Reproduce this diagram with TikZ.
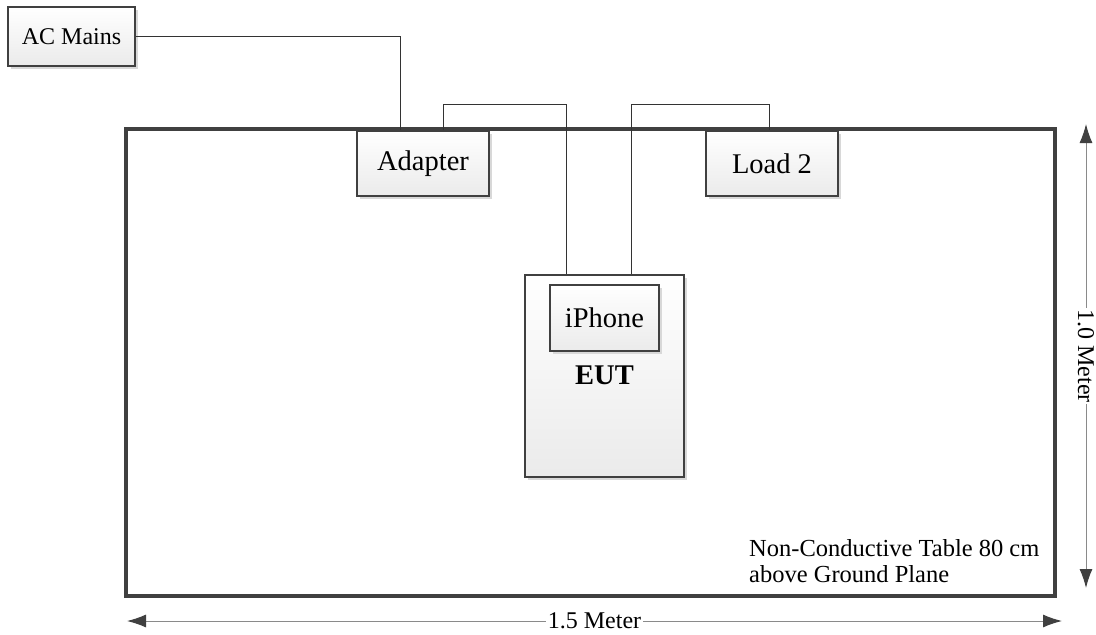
\documentclass[tikz,border=0pt]{standalone}
\usepackage{fontspec}
\setmainfont{Liberation Serif}
\usetikzlibrary{arrows.meta,shadows}
\definecolor{edgegray}{HTML}{404040}
\definecolor{wiregray}{HTML}{333333}
\definecolor{dimgray}{HTML}{8A8A8A}
\definecolor{shadowgray}{HTML}{D8D8D8}
\begin{document}
\begin{tikzpicture}[x=1pt,y=-1pt,
  box/.style={draw=edgegray,line width=1.8pt,top color=white,bottom color=black!8,inner sep=0pt,
    drop shadow={shadow xshift=3pt,shadow yshift=-3pt,fill=shadowgray,opacity=1},
    font=\fontsize{28.5}{30}\selectfont},
  smallbox/.style={box,font=\fontsize{24}{26}\selectfont},
  wire/.style={draw=wiregray,line width=0.9pt},
  dim/.style={draw=dimgray,line width=1pt,
    {Latex[length=19pt,width=13pt,color=edgegray]}-{Latex[length=19pt,width=13pt,color=edgegray]}},
  dimlabel/.style={fill=white,inner sep=1.5pt,font=\fontsize{24}{26}\selectfont}]
\useasboundingbox (0,0) rectangle (1096,635);
% table
\node[draw=edgegray,line width=3.2pt,inner sep=0pt,minimum width=929pt,minimum height=467pt] (table) at (590.5,362.5) {};
% boxes
\node[smallbox,minimum width=127pt,minimum height=59pt] (ac) at (71.5,36.5) {AC Mains};
\node[box,minimum width=132pt,minimum height=65pt] (adapter) at (423,163.5) {Adapter};
\node[box,minimum width=132pt,minimum height=65pt] (load) at (772,163.5) {Load 2};
\node[box,minimum width=159pt,minimum height=202pt] (eut) at (604.5,376) {};
\node[box,minimum width=109pt,minimum height=66pt] (iphone) at (604.5,318) {iPhone};
\node[font=\fontsize{28.5}{30}\selectfont\bfseries,inner sep=0pt] (euttext) at (604.5,375) {EUT};
% wires
\draw[wire] (ac.east) -| ([xshift=-23pt]adapter.north);
\draw[wire] ([xshift=20pt]adapter.north) -- ++(0,-26) -| ([xshift=-38.5pt]eut.north);
\draw[wire] ([xshift=26.5pt]eut.north) -- ++(0,-170) -| ([xshift=-3pt]load.north);
% note
\node[anchor=west,align=left,inner sep=0pt,font=\fontsize{24.5}{26}\selectfont] (note) at (749,561) {Non-Conductive Table 80 cm\\above Ground Plane};
% dimensions
\coordinate (hl) at (127,621);
\coordinate (hr) at (1062,621);
\coordinate (vt) at (1086,124);
\coordinate (vb) at (1086,588);
\draw[dim] (hl) -- (hr) node[midway,dimlabel] (hlabel) {1.5 Meter};
\draw[dim] (vt) -- (vb) node[midway,dimlabel,rotate=-90] (vlabel) {1.0 Meter};
\end{tikzpicture}
\end{document}
